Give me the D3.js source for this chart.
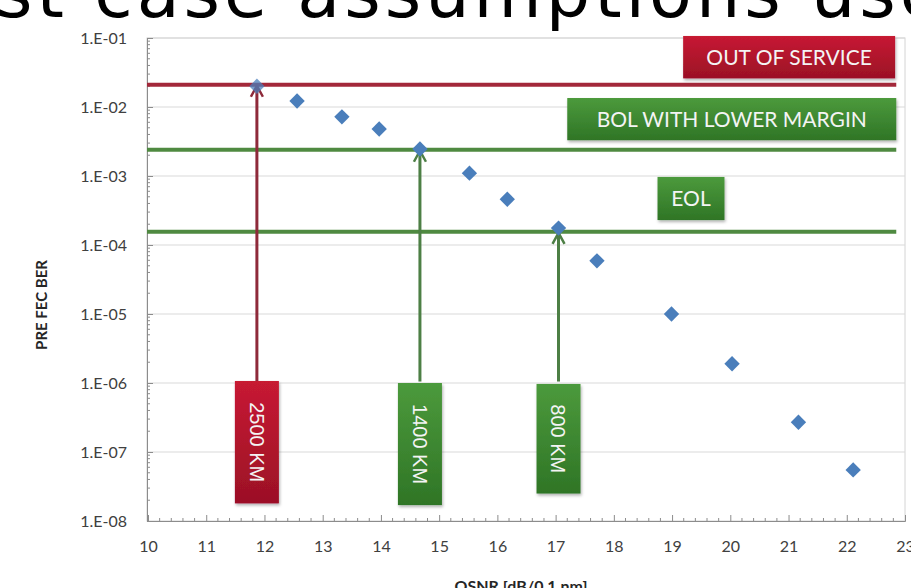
<!DOCTYPE html>
<html>
<head>
<meta charset="utf-8">
<script src="https://cdn.jsdelivr.net/npm/d3@7"></script>
<style>
  body { margin: 0; background: #fff; }
  svg { display: block; }
</style>
</head>
<body>
<script>
// measured points, OSNR vs pre-FEC BER
const osnr = [11.87, 12.56, 13.33, 13.97, 14.67, 15.52, 16.17, 17.05, 17.71, 18.99, 20.03, 21.17, 22.11]
const ber  = [2.0e-2, 1.22e-2, 7.2e-3, 4.8e-3, 2.46e-3, 1.1e-3, 4.6e-4, 1.76e-4, 5.9e-5, 1.0e-5, 1.9e-6, 2.7e-7, 5.5e-8]

// threshold lines
const limitNames  = ["OUT OF SERVICE", "BOL WITH LOWER MARGIN", "EOL"]
const limitValues = [2.1e-2, 2.4e-3, 1.55e-4]
const limitColors = ["red", "green", "green"]

// reach arrows
const reachNames  = ["2500 KM", "1400 KM", "800 KM"]
const reachOsnr   = [11.87, 14.67, 17.05]
const reachLimit  = [2.1e-2, 2.4e-3, 1.55e-4]
const reachColors = ["red", "green", "green"]

const xTicks = d3.range(10, 24)
const yTicks = [1e-8, 1e-7, 1e-6, 1e-5, 1e-4, 1e-3, 1e-2, 1e-1]
const yTickLabels = ["1.E-08", "1.E-07", "1.E-06", "1.E-05", "1.E-04", "1.E-03", "1.E-02", "1.E-01"]

const width = 911, height = 588
const margin = { top: 38, right: 6, bottom: 67, left: 147 }

const svg = d3.select("body").append("svg")
    .attr("width", width)
    .attr("height", height)

const defs = svg.append("defs")
const grads = { red: ["#c71a33", "#9b1026"], green: ["#4c9a3c", "#2f7526"] }
Object.entries(grads).forEach(([k, c]) => {
    let g = defs.append("linearGradient").attr("id", "g-" + k)
        .attr("x1", 0).attr("y1", 0).attr("x2", 0).attr("y2", 1)
    g.append("stop").attr("offset", "0%").attr("stop-color", c[0])
    g.append("stop").attr("offset", "100%").attr("stop-color", c[1])
})
defs.append("filter").attr("id", "shadow")
    .attr("x", "-20%").attr("y", "-20%").attr("width", "140%").attr("height", "140%")
    .append("feDropShadow")
    .attr("dx", 1).attr("dy", 2).attr("stdDeviation", 1.5)
    .attr("flood-color", "#000").attr("flood-opacity", 0.3)

const lineCol = { red: "#a3283a", green: "#4f8a41" }
const arrowCol = { red: "#8e2a3a", green: "#4d7f45" }

let xScale = d3.scaleLinear().domain([10, 23]).range([margin.left + 1, width - margin.right])
let yScale = d3.scaleLog().domain([1e-8, 1e-1]).range([height - margin.bottom, margin.top])

// title, cut off by the top edge
let title = svg.append("text")
    .attr("y", 17)
    .attr("font-family", "DejaVu Sans")
    .attr("font-size", 70)
    .attr("letter-spacing", 4)
    .attr("fill", "#000")
    .text("Worst case assumptions used")
let skip = title.node().getSubStringLength(0, 3)
title.attr("x", -skip - 4)

// plot frame and grid
svg.append("rect")
    .attr("x", margin.left).attr("y", margin.top)
    .attr("width", width - margin.right - margin.left)
    .attr("height", height - margin.bottom - margin.top)
    .attr("fill", "none").attr("stroke", "#d4d4d4")

svg.append("g")
    .selectAll("line")
    .data(yTicks.slice(1))
    .join("line")
    .attr("x1", margin.left).attr("x2", width - margin.right)
    .attr("y1", d => yScale(d)).attr("y2", d => yScale(d))
    .attr("stroke", "#d9d9d9").attr("stroke-width", 1.2)

// axes
let yAxis = svg.append("g")
    .attr("transform", `translate(${margin.left},0)`)
    .call(d3.axisLeft(yScale).tickValues(yTicks).tickSize(-6).tickPadding(20)
        .tickFormat((d, i) => yTickLabels[i]))
let xAxis = svg.append("g")
    .attr("transform", `translate(0,${height - margin.bottom})`)
    .call(d3.axisBottom(xScale).tickValues(xTicks).tickSize(-6).tickPadding(20))

;[yAxis, xAxis].forEach(a => {
    a.select(".domain").attr("stroke", "#8c8c8c")
    a.selectAll(".tick line").attr("stroke", "#8c8c8c")
    a.selectAll("text").attr("font-family", "Lato").attr("font-size", 16).attr("fill", "#404040")
})

// minor ticks
let yMinor = []
yTicks.slice(0, -1).forEach(d => { for (let k = 2; k < 10; k++) yMinor.push(d * k) })
svg.append("g").selectAll("line").data(yMinor).join("line")
    .attr("x1", margin.left).attr("x2", margin.left + 3)
    .attr("y1", d => yScale(d)).attr("y2", d => yScale(d))
    .attr("stroke", "#8c8c8c")

let xMinor = d3.range(10, 23.001, 0.2).filter(d => Math.abs(d - Math.round(d)) > 0.01)
svg.append("g").selectAll("line").data(xMinor).join("line")
    .attr("x1", d => xScale(d)).attr("x2", d => xScale(d))
    .attr("y1", height - margin.bottom).attr("y2", height - margin.bottom - 3)
    .attr("stroke", "#8c8c8c")

// axis titles
svg.append("text")
    .attr("transform", `translate(47,305) rotate(-90)`)
    .attr("text-anchor", "middle")
    .attr("font-family", "Lato").attr("font-weight", "bold").attr("font-size", 15)
    .attr("fill", "#262626")
    .text("PRE FEC BER")
svg.append("text")
    .attr("x", 521).attr("y", 592)
    .attr("text-anchor", "middle")
    .attr("font-family", "Lato").attr("font-weight", "bold").attr("font-size", 16)
    .attr("fill", "#262626")
    .text("OSNR [dB/0.1 nm]")

// threshold lines
svg.append("g").selectAll("line")
    .data(limitValues)
    .join("line")
    .attr("x1", margin.left).attr("x2", xScale(22.85))
    .attr("y1", d => yScale(d)).attr("y2", d => yScale(d))
    .attr("stroke", (d, i) => lineCol[limitColors[i]])
    .attr("stroke-width", 4)

// threshold label boxes (OSNR span and BER span)
const boxX0 = [19.19, 17.2, 18.75]
const boxX1 = [22.83, 22.85, 19.9]
const boxYt = [1.07e-1, 1.35e-2, 9.7e-4]
const boxYb = [2.6e-2, 3.3e-3, 2.3e-4]
let lbl = svg.append("g").selectAll("g")
    .data(limitNames)
    .join("g")
lbl.append("rect")
    .attr("x", (d, i) => xScale(boxX0[i]))
    .attr("y", (d, i) => yScale(boxYt[i]))
    .attr("width", (d, i) => xScale(boxX1[i]) - xScale(boxX0[i]))
    .attr("height", (d, i) => yScale(boxYb[i]) - yScale(boxYt[i]))
    .attr("fill", (d, i) => `url(#g-${limitColors[i]})`)
    .attr("filter", "url(#shadow)")
lbl.append("text")
    .attr("x", (d, i) => (xScale(boxX0[i]) + xScale(boxX1[i])) / 2)
    .attr("y", (d, i) => (yScale(boxYt[i]) + yScale(boxYb[i])) / 2)
    .attr("dy", "0.36em")
    .attr("text-anchor", "middle")
    .attr("font-family", "Lato").attr("font-size", 21)
    .attr("fill", "#f4f4f4")
    .text(d => d)

// reach arrows
let arrows = svg.append("g")
arrows.selectAll("line")
    .data(reachOsnr)
    .join("line")
    .attr("x1", d => xScale(d)).attr("x2", d => xScale(d))
    .attr("y1", yScale(1.05e-6))
    .attr("y2", (d, i) => yScale(reachLimit[i]) + 1)
    .attr("stroke", (d, i) => arrowCol[reachColors[i]])
    .attr("stroke-width", 3)
arrows.selectAll("path")
    .data(reachOsnr)
    .join("path")
    .attr("d", (d, i) => {
        let px = xScale(d), py = yScale(reachLimit[i]) + 1
        return `M${px - 6},${py + 11}L${px},${py}L${px + 6},${py + 11}`
    })
    .attr("fill", "none")
    .attr("stroke", (d, i) => arrowCol[reachColors[i]])
    .attr("stroke-width", 2.5)

// data points
svg.append("g").selectAll("path")
    .data(osnr)
    .join("path")
    .attr("transform", (d, i) => `translate(${xScale(d)},${yScale(ber[i])})`)
    .attr("d", d3.symbol(d3.symbolDiamond2, 150))
    .attr("fill", "#4a7ebb")
    .attr("opacity", (d, i) => i == 0 ? 0.75 : 1)

// reach label boxes
const reachBoxTop = [1.07e-6, 1.0e-6, 0.97e-6]
const reachBoxBottom = [1.8e-8, 1.7e-8, 2.5e-8]
let rl = svg.append("g").selectAll("g")
    .data(reachNames)
    .join("g")
rl.append("rect")
    .attr("x", (d, i) => xScale(reachOsnr[i]) - 22)
    .attr("y", (d, i) => yScale(reachBoxTop[i]))
    .attr("width", 44)
    .attr("height", (d, i) => yScale(reachBoxBottom[i]) - yScale(reachBoxTop[i]))
    .attr("fill", (d, i) => `url(#g-${reachColors[i]})`)
    .attr("filter", "url(#shadow)")
rl.append("text")
    .attr("transform", (d, i) => {
        let cy = (yScale(reachBoxTop[i]) + yScale(reachBoxBottom[i])) / 2
        return `translate(${xScale(reachOsnr[i])},${cy}) rotate(90)`
    })
    .attr("dy", "0.36em")
    .attr("text-anchor", "middle")
    .attr("font-family", "Liberation Sans").attr("font-size", 20)
    .attr("fill", "#f4f4f4")
    .text(d => d)
</script>
</body>
</html>
